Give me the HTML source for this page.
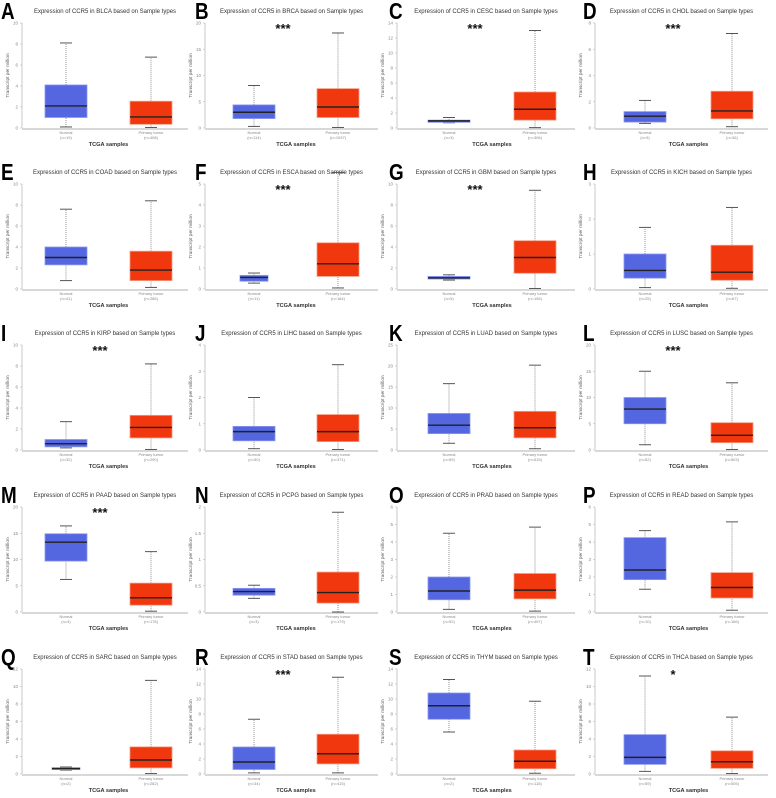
<!DOCTYPE html>
<html><head><meta charset="utf-8"><style>
html,body{margin:0;padding:0;background:#fff;}
svg{display:block;font-family:"Liberation Sans",sans-serif;}
</style></head><body>
<svg id="fig" width="776" height="798" viewBox="0 0 776 798" xmlns="http://www.w3.org/2000/svg"></svg>
<script>
const panelLetters = ["A","B","C","D","E","F","G","H","I","J","K","L","M","N","O","P","Q","R","S","T"];
const cancerTypes = ["BLCA","BRCA","CESC","CHOL","COAD","ESCA","GBM","KICH","KIRP","LIHC","LUAD","LUSC","PAAD","PCPG","PRAD","READ","SARC","STAD","THYM","THCA"];
const yMaxes = [10,20,14,8,10,5,10,3,10,4,25,20,20,2,6,6,12,14,14,12];
const yStepsArr = [2,5,2,2,2,1,2,1,2,1,5,5,5,0.5,1,1,2,2,2,2];
// [min, q1, median, q3, max]
const normalStats = [
[0.1,1.0,2.1,4.1,8.1],[0.3,1.8,3.0,4.4,8.1],[0.7,0.75,0.95,1.05,1.4],[0.35,0.45,0.9,1.25,2.1],
[0.8,2.3,3.0,4.0,7.6],[0.28,0.37,0.55,0.65,0.76],[0.85,0.95,1.05,1.2,1.35],[0.04,0.31,0.53,1.0,1.76],
[0.2,0.3,0.6,1.0,2.7],[0.05,0.35,0.7,0.9,2.0],[1.6,3.9,5.9,8.7,15.8],[1.0,5.0,7.8,10.0,15.0],
[6.2,9.7,13.3,14.9,16.4],[0.26,0.32,0.39,0.45,0.51],[0.15,0.7,1.2,2.0,4.5],[1.3,1.85,2.4,4.25,4.65],
[0.45,0.5,0.62,0.72,0.8],[0.15,0.6,1.6,3.6,7.3],[5.6,7.3,9.1,10.8,12.6],[0.3,1.1,1.9,4.5,11.2]];
const tumorStats = [
[0.05,0.35,1.05,2.55,6.75],[0.1,2.0,4.0,7.5,18.1],[0.05,1.05,2.5,4.8,13.0],[0.1,0.7,1.3,2.8,7.2],
[0.15,0.8,1.8,3.6,8.4],[0.05,0.6,1.2,2.2,5.55],[0.05,1.5,3.0,4.6,9.4],[0.02,0.25,0.48,1.25,2.33],
[0.05,1.15,2.15,3.3,8.2],[0.02,0.32,0.7,1.35,3.25],[0.3,2.9,5.3,9.2,20.2],[0.1,1.4,2.8,5.2,12.8],
[0.15,1.3,2.7,5.5,11.5],[0.0,0.17,0.37,0.76,1.9],[0.05,0.75,1.25,2.2,4.85],[0.1,0.8,1.4,2.25,5.15],
[0.05,0.7,1.6,3.1,10.7],[0.15,1.35,2.7,5.3,12.9],[0.1,0.7,1.7,3.2,9.7],[0.05,0.65,1.4,2.65,6.5]];
const normalN = [19,114,3,9,41,11,5,25,32,50,59,52,4,3,52,10,2,34,2,59];
const tumorN = [408,1097,306,36,286,184,156,67,290,371,515,503,178,179,497,166,262,415,118,505];
const significance = ["","***","***","***","","***","***","","***","","","***","***","","","","","***","","*"];

const NS="http://www.w3.org/2000/svg";
const svg=document.getElementById('fig');
const colX=[0,194,388,582];
const axisX=[22,205,397,595];
const nCtr=[66,254,449,645];
const tCtr=[151,338,535,732];
const axisRight=[188,378,575,768];
const rowY=[0,161,322,484,646];
function mk(tag,attrs,parent){const e=document.createElementNS(NS,tag);for(const k in attrs)e.setAttribute(k,attrs[k]);(parent||svg).appendChild(e);return e;}

panelLetters.forEach((L,i)=>{
  const c=i%4,r=Math.floor(i/4);
  const g=mk('g',{});
  
  
  const y0=rowY[r], top=y0+23, bot=y0+128;
  const ax=axisX[c];
  const ys=v=>bot-(v/yMaxes[i])*(bot-top);
  const lt=mk('text',{x:0,y:0,'font-size':23,'font-weight':'bold',fill:'#000',transform:`translate(${colX[c]+1},${y0+19}) scale(0.82,1)`},g);
  lt.textContent=L;
  
  
  const tt=mk('text',{x:(ax+axisRight[c])/2,y:y0+13,'font-size':6,'text-anchor':'middle',fill:'#333'},g);
  tt.textContent='Expression of CCR5 in '+cancerTypes[i]+' based on Sample types';
  
  
  const ya=mk('line',{x1:ax,y1:top,x2:ax,y2:bot,stroke:'#bbb','stroke-width':0.8},g);
  
  
  const xa=mk('line',{x1:ax,y1:bot+1,x2:axisRight[c],y2:bot+1,stroke:'#ccc','stroke-width':1.6},g);
  
  
  for(let v=0;v<=yMaxes[i]+1e-9;v+=yStepsArr[i]){
    const y=ys(v);
    mk('line',{x1:ax-2,y1:y,x2:ax,y2:y,stroke:'#bbb','stroke-width':0.6},g);
    const tl=mk('text',{x:ax-4,y:y+1.5,'font-size':4.5,'text-anchor':'end',fill:'#888'},g);
    tl.textContent=String(Math.round(v*10)/10);
    
    
  }
  const yt=mk('text',{x:0,y:0,'font-size':4.8,'text-anchor':'middle',fill:'#555',transform:`translate(${ax-13},${(top+bot)/2}) rotate(-90)`},g);
  yt.textContent='Transcript per million';
  
  
  const xt=mk('text',{x:(nCtr[c]+tCtr[c])/2,y:y0+146,'font-size':5.6,'font-weight':'bold','text-anchor':'middle',fill:'#333'},g);
  xt.textContent='TCGA samples';
  
  
  const groups=[[normalStats[i],nCtr[c],'#5466e0','#8b98ee','Normal',normalN[i],'normal'],[tumorStats[i],tCtr[c],'#f0370e','#f59a80','Primary tumor',tumorN[i],'tumor']];
  groups.forEach(([s,cx,fill,edge,lab,n,key])=>{
    let w=42;
    if(key==='normal'&&(i===5||i===16))w=28;
    const bg=mk('g',{},g);
    
    
    mk('line',{x1:cx,y1:ys(s[0]),x2:cx,y2:ys(s[1]),stroke:'#666','stroke-width':0.7,'stroke-dasharray':'1,1'},bg);
    mk('line',{x1:cx,y1:ys(s[3]),x2:cx,y2:ys(s[4]),stroke:'#666','stroke-width':0.7,'stroke-dasharray':'1,1'},bg);
    mk('line',{x1:cx-6,y1:ys(s[0]),x2:cx+6,y2:ys(s[0]),stroke:'#555','stroke-width':1},bg);
    mk('line',{x1:cx-6,y1:ys(s[4]),x2:cx+6,y2:ys(s[4]),stroke:'#555','stroke-width':1},bg);
    const f=(i===16&&key==='normal')?'#3a4a9a':fill;
    mk('rect',{x:cx-w/2,y:ys(s[3]),width:w,height:Math.max(ys(s[1])-ys(s[3]),1),fill:f,stroke:edge,'stroke-width':0.8},bg);
    mk('line',{x1:cx-w/2,y1:ys(s[2]),x2:cx+w/2,y2:ys(s[2]),stroke:'#222','stroke-width':1.4},bg);
    const l1=mk('text',{x:cx,y:y0+134,'font-size':4,'text-anchor':'middle',fill:'#888'},g);
    l1.textContent=lab;
    
    
    const l2=mk('text',{x:cx,y:y0+139,'font-size':4,'text-anchor':'middle',fill:'#888'},g);
    l2.textContent='(n='+n+')';
    
    
  });
  if(significance[i]){
    const st=mk('text',{x:ax+78,y:y0+33,'font-size':13,'font-weight':'bold','text-anchor':'middle',fill:'#111'},g);
    st.textContent=significance[i];
    
    
  }
});
</script>
</body></html>
